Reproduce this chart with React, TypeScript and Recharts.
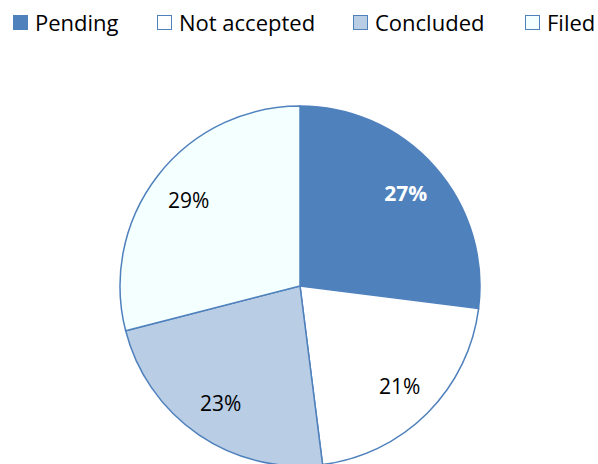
import { PieChart, Pie, Cell } from 'recharts'

const categories = ['Pending', 'Not accepted', 'Concluded', 'Filed']
const shares = [27, 21, 23, 29]
const fills = ['#4f81bd', '#ffffff', '#b9cde5', '#f4ffff']

const data = categories.map((name, i) => ({ name, value: shares[i], fill: fills[i] }))

const FONT = '"Open Sans", sans-serif'
const RAD = Math.PI / 180
// left edge of each legend swatch
const legendX = [13, 157, 353, 525]

function renderLabel(props: any) {
  const { cx, cy, midAngle, value, index } = props
  const r = 141
  const x = cx + r * Math.cos(-midAngle * RAD)
  const y = cy + r * Math.sin(-midAngle * RAD)
  const first = index === 0
  return (
    <text
      x={x}
      y={y}
      textAnchor="middle"
      dominantBaseline="central"
      fontFamily={FONT}
      fontSize={21}
      fontWeight={first ? 700 : 400}
      fill={first ? '#ffffff' : '#000000'}
    >
      {`${value}%`}
    </text>
  )
}

function LegendBox() {
  return (
    <div style={{ position: 'absolute', left: 0, top: 0, width: 598, height: 46 }}>
      {data.map((d, i) => (
        <div
          key={d.name}
          style={{
            position: 'absolute',
            left: legendX[i],
            top: 6,
            display: 'flex',
            alignItems: 'center',
            gap: 7,
            fontFamily: FONT,
            fontSize: 22,
            lineHeight: '32px',
            color: '#000',
            whiteSpace: 'nowrap',
          }}
        >
          <span
            style={{
              display: 'inline-block',
              width: 13,
              height: 13,
              background: d.fill,
              border: '1.5px solid #4f81bd',
            }}
          />
          <span>{d.name}</span>
        </div>
      ))}
    </div>
  )
}

export default function App() {
  return (
    <div style={{ position: 'absolute', left: 0, top: 0, width: 598, height: 464, background: '#fff' }}>
      <PieChart width={598} height={464} margin={{ top: 0, right: 0, bottom: 0, left: 0 }}>
        <Pie
          data={data}
          dataKey="value"
          nameKey="name"
          cx={300}
          cy={286}
          outerRadius={180}
          startAngle={90}
          endAngle={-270}
          stroke="#4f81bd"
          strokeWidth={1.5}
          label={renderLabel}
          labelLine={false}
          isAnimationActive={false}
        >
          {data.map((d) => (
            <Cell key={d.name} fill={d.fill} />
          ))}
        </Pie>
      </PieChart>
      <LegendBox />
    </div>
  )
}
